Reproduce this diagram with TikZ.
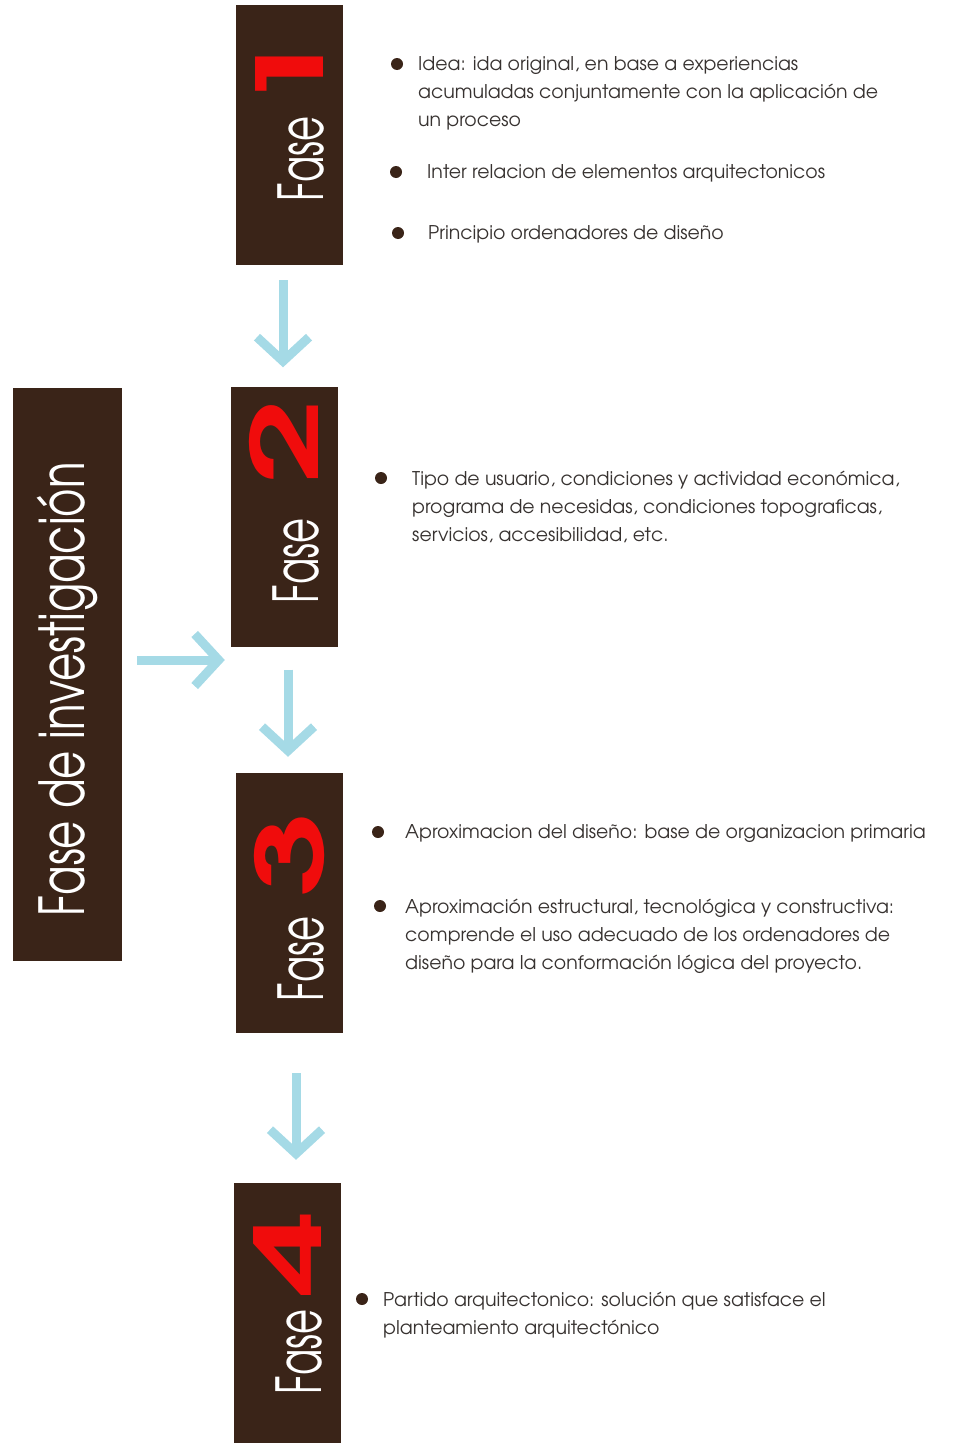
\documentclass[tikz,border=0pt]{standalone}
\usepackage{fontspec}
\setmainfont{texgyreadventor}[Extension=.otf, UprightFont=*-regular, BoldFont=*-bold]
\usetikzlibrary{positioning, arrows.meta}
\definecolor{cafe}{RGB}{58,36,24}
\definecolor{celeste}{RGB}{165,218,230}
\definecolor{rojo}{RGB}{240,12,12}
\definecolor{texto}{RGB}{55,50,48}
\newcommand{\cond}[1]{\scalebox{0.62}[1]{#1}}
\newcommand{\cifra}[1]{{\color{rojo}\bfseries\fontsize{92}{92}\selectfont\scalebox{1.65}[1]{#1}}}
\tikzset{
	fase/.style={
		rectangle,
		fill=cafe,
		text=white,
		minimum width=107pt,
		minimum height=260pt,
		inner sep=0pt,
		font=\fontsize{62}{62}\selectfont,
	},
	rotulo/.style={
		rotate=90,
		anchor=west,
		xshift=-4pt,
		inner sep=0pt,
		text=white,
		font=\fontsize{62}{62}\selectfont,
	},
	flow/.style={
		draw=celeste,
		line width=9pt,
		-{Straight Barb[length=24pt, width=52pt]},
	},
	bullet/.style={
		circle,
		fill=cafe,
		minimum size=12pt,
		inner sep=0pt,
	},
	item/.style={
		anchor=north west,
		yshift=7.5pt,
		inner sep=0pt,
		align=left,
		text=texto,
		font=\fontsize{18.9}{28}\selectfont,
	},
}
\begin{document}
\begin{tikzpicture}[x=1pt, y=-1pt]
		\useasboundingbox (0,0) rectangle (957,1448);
		% Place nodes
		\node [fase] (f1) at (289.5,135) {};
		\node [fase] (f2) at (284.5,516.5) {};
		\node [fase] (f3) at (289.5,903) {};
		\node [fase] (f4) at (287.5,1313) {};
		\node [fase, minimum width=109pt, minimum height=573pt] (inv) at (67.5,674.5) {\rotatebox{90}{\scalebox{0.7}[1]{Fase de investigación}\hspace{30pt}}};
		
		\node [rotulo] (r1) at ([yshift=68pt]f1.south) {\cond{Fase}\hspace{2pt}\cifra{1}};
		\node [rotulo] (r2) at ([yshift=47pt]f2.south) {\cond{Fase}\hspace{34pt}\cifra{2}};
		\node [rotulo] (r3) at ([yshift=36pt]f3.south) {\cond{Fase}\hspace{20pt}\cifra{3}};
		\node [rotulo] (r4) at ([yshift=53pt]f4.south) {\cond{Fase}\hspace{14pt}\cifra{4}};
		
		\draw [flow] ([xshift=-6.5pt, yshift=-15pt]f1.south) to ([xshift=-1.5pt, yshift=19pt]f2.north);
		\draw [flow] ([xshift=3.5pt, yshift=-23pt]f2.south) to ([xshift=-1.5pt, yshift=16pt]f3.north);
		\draw [flow] ([xshift=6.5pt, yshift=-40pt]f3.south) to ([xshift=8.5pt, yshift=23pt]f4.north);
		
		\coordinate (a0) at ([xshift=15pt, yshift=14.5pt]inv.east);
		\draw [flow, shorten >=6pt] (a0) to (a0 -| f2.west);
		
		% Fase 1
		\node [bullet] (b1a) at (397,64) {};
		\node [item] (t1a) at ([xshift=21pt]b1a.center) {Idea: ida original, en base a experiencias\\acumuladas conjuntamente con la aplicación de\\un proceso};
		\node [bullet] (b1b) at (396,172) {};
		\node [item] (t1b) at ([xshift=31pt]b1b.center) {Inter relacion de elementos arquitectonicos};
		\node [bullet] (b1c) at (398,233) {};
		\node [item] (t1c) at ([xshift=30pt]b1c.center) {Principio ordenadores de diseño};
		
		% Fase 2
		\node [bullet] (b2a) at (381,478) {};
		\node [item] (t2a) at ([xshift=31pt]b2a.center) {Tipo de usuario, condiciones y actividad económica,\\programa de necesidas, condiciones topograficas,\\servicios, accesibilidad, etc.};
		
		% Fase 3
		\node [bullet] (b3a) at (378,832) {};
		\node [item] (t3a) at ([xshift=27pt]b3a.center) {Aproximacion del diseño: base de organizacion primaria};
		\node [bullet] (b3b) at (380,906) {};
		\node [item] (t3b) at ([xshift=25pt]b3b.center) {Aproximación estructural, tecnológica y constructiva:\\comprende el uso adecuado de los ordenadores de\\diseño para la conformación lógica del proyecto.};
		
		% Fase 4
		\node [bullet] (b4a) at (362,1299) {};
		\node [item] (t4a) at ([xshift=21pt]b4a.center) {Partido arquitectonico: solución que satisface el\\planteamiento arquitectónico};

	\end{tikzpicture}
\end{document}
